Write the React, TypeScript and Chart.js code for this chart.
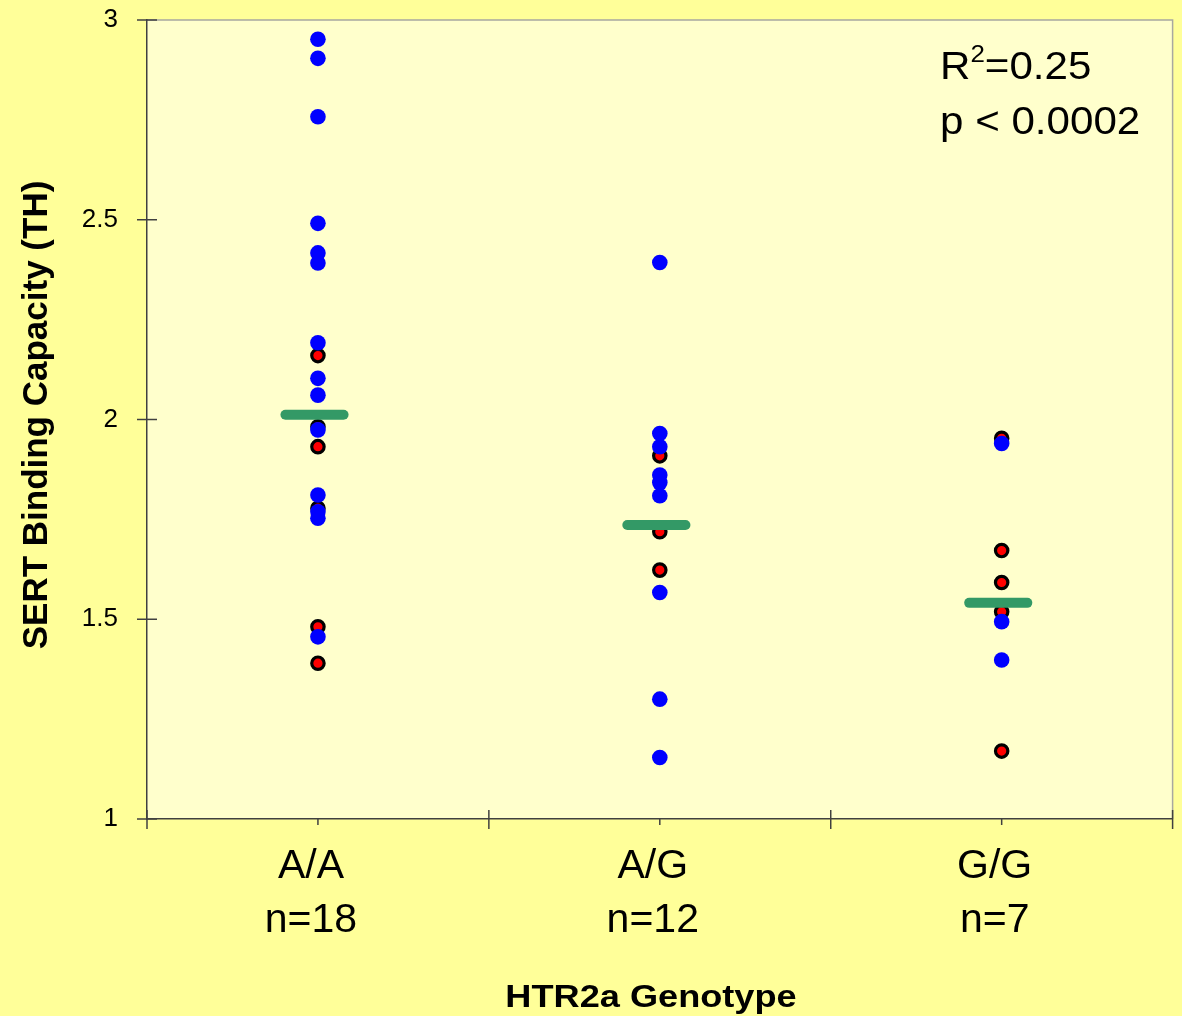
import React, { useEffect, useRef } from "react";
import { Chart, registerables } from "chart.js";

Chart.register(...registerables);

// ---- data ----
const categories = ["A/A", "A/G", "G/G"];
const sampleSizes = ["n=18", "n=12", "n=7"];
const yTicks = [1, 1.5, 2, 2.5, 3];

// blue dots
const blueAA = [2.952, 2.904, 2.758, 2.491, 2.417, 2.392, 2.192, 2.103, 2.061, 1.974, 1.811, 1.769, 1.753, 1.456];
const blueAG = [2.393, 1.965, 1.932, 1.861, 1.842, 1.809, 1.567, 1.3, 1.154];
const blueGG = [1.94, 1.494, 1.398];
// red dots with black rim
const redAA = [2.16, 1.982, 1.932, 1.778, 1.481, 1.39];
const redAG = [1.909, 1.719, 1.623];
const redGG = [1.953, 1.672, 1.592, 1.519, 1.17];
// group means (green bars)
const meanValues = [2.012, 1.736, 1.541];

const FONT = "'Liberation Sans', Arial, Helvetica, sans-serif";
const AXIS_COLOR = "#404040";

const toPoints = (idx: number, vals: number[]) => vals.map((y) => ({ x: idx, y }));

export default function App() {
  const ref = useRef<HTMLCanvasElement>(null);

  useEffect(() => {
    document.body.style.margin = "0";
    const canvas = ref.current;
    if (!canvas) return;

    const bluePts = [...toPoints(0, blueAA), ...toPoints(1, blueAG), ...toPoints(2, blueGG)];
    const redPts = [...toPoints(0, redAA), ...toPoints(1, redAG), ...toPoints(2, redGG)];

    const meanSets = meanValues.map((m, i) => ({
      label: "mean " + categories[i],
      data: [
        { x: i - 0.095, y: m },
        { x: i + 0.075, y: m },
      ],
      showLine: true,
      borderColor: "#339966",
      borderWidth: 10,
      borderCapStyle: "round" as const,
      pointRadius: 0,
      fill: false,
    }));

    const decor = {
      id: "decor",
      beforeDraw(chart: any) {
        const { ctx, chartArea: a } = chart;
        ctx.save();
        ctx.fillStyle = "#FFFF99";
        ctx.fillRect(0, 0, chart.width, chart.height);
        ctx.fillStyle = "#FFFFCC";
        ctx.fillRect(a.left, a.top, a.right - a.left, a.bottom - a.top);
        ctx.strokeStyle = "#A8A8A0";
        ctx.lineWidth = 1.5;
        ctx.beginPath();
        ctx.moveTo(a.left, a.top);
        ctx.lineTo(a.right, a.top);
        ctx.lineTo(a.right, a.bottom);
        ctx.stroke();
        ctx.restore();
      },
      afterDraw(chart: any) {
        const { ctx, chartArea: a, scales } = chart;
        const x = scales.x;
        const y = scales.y;
        ctx.save();
        ctx.strokeStyle = AXIS_COLOR;
        ctx.lineWidth = 1.5;
        const line = (x1: number, y1: number, x2: number, y2: number) => {
          ctx.beginPath();
          ctx.moveTo(x1, y1);
          ctx.lineTo(x2, y2);
          ctx.stroke();
        };
        yTicks.forEach((v) => {
          const py = y.getPixelForValue(v);
          line(a.left - 10, py, a.left + 10, py);
        });
        categories.forEach((_, i) => {
          const pc = x.getPixelForValue(i);
          line(pc, a.bottom, pc, a.bottom + 6);
        });
        [-0.5, 0.5, 1.5, 2.5].forEach((v) => {
          const pb = x.getPixelForValue(v);
          line(pb, a.bottom - 9, pb, a.bottom + 10);
        });

        ctx.fillStyle = "#000";
        // y axis title
        ctx.save();
        ctx.translate(46.5, 415);
        ctx.rotate(-Math.PI / 2);
        ctx.font = `bold 35px ${FONT}`;
        ctx.textAlign = "center";
        ctx.textBaseline = "alphabetic";
        ctx.fillText("SERT Binding Capacity (TH)", 0, 0);
        ctx.restore();

        // x axis title
        ctx.save();
        ctx.translate(651, 1007);
        ctx.scale(1.13, 1);
        ctx.font = `bold 32px ${FONT}`;
        ctx.textAlign = "center";
        ctx.textBaseline = "alphabetic";
        ctx.fillText("HTR2a Genotype", 0, 0);
        ctx.restore();

        // annotation
        ctx.save();
        ctx.translate(940, 79);
        ctx.scale(1.08, 1);
        ctx.textAlign = "left";
        ctx.textBaseline = "alphabetic";
        ctx.font = `39px ${FONT}`;
        ctx.fillText("R", 0, 0);
        let w = ctx.measureText("R").width;
        ctx.font = `24px ${FONT}`;
        ctx.fillText("2", w, -17);
        w += ctx.measureText("2").width;
        ctx.font = `39px ${FONT}`;
        ctx.fillText("=0.25", w, 0);
        ctx.fillText("p < 0.0002", 0, 55);
        ctx.restore();

        ctx.restore();
      },
    };

    const chart = new Chart(canvas, {
      type: "scatter",
      data: {
        datasets: [
          ...meanSets,
          {
            label: "blue",
            data: bluePts,
            backgroundColor: "#0000FF",
            borderColor: "#0000FF",
            borderWidth: 0,
            pointRadius: 7.8,
          },
          {
            label: "red",
            data: redPts,
            backgroundColor: "#FF0000",
            borderColor: "#000000",
            borderWidth: 3.2,
            pointRadius: 6.2,
          },
        ] as any,
      },
      options: {
        animation: false,
        responsive: false,
        devicePixelRatio: 1,
        events: [],
        layout: { padding: { top: 20, right: 9, left: 0, bottom: 0 } },
        plugins: {
          legend: { display: false },
          tooltip: { enabled: false },
        },
        scales: {
          x: {
            type: "linear",
            min: -0.5,
            max: 2.5,
            afterBuildTicks: (s: any) => {
              s.ticks = categories.map((_, i) => ({ value: i }));
            },
            afterFit: (s: any) => {
              s.height = 197;
              s.paddingLeft = 0;
              s.paddingRight = 0;
            },
            grid: { color: "transparent", drawTicks: false },
            border: { color: AXIS_COLOR, width: 1.5 },
            ticks: {
              padding: 20,
              labelOffset: -7,
              maxRotation: 0,
              autoSkip: false,
              color: "#000",
              font: { family: FONT, size: 41, lineHeight: 1.33 },
              callback: (v: any) => [categories[v], sampleSizes[v]],
            },
          },
          y: {
            type: "linear",
            min: 1,
            max: 3,
            afterBuildTicks: (s: any) => {
              s.ticks = yTicks.map((v) => ({ value: v }));
            },
            afterFit: (s: any) => {
              s.width = 147;
              s.paddingTop = 0;
              s.paddingBottom = 0;
            },
            grid: { color: "transparent", drawTicks: false },
            border: { color: AXIS_COLOR, width: 1.5 },
            ticks: {
              padding: 29,
              color: "#000",
              font: { family: FONT, size: 26 },
              callback: (v: any) => String(v),
            },
          },
        },
      },
      plugins: [decor],
    });

    return () => chart.destroy();
  }, []);

  return <canvas ref={ref} width={1182} height={1016} style={{ display: "block" }} />;
}
